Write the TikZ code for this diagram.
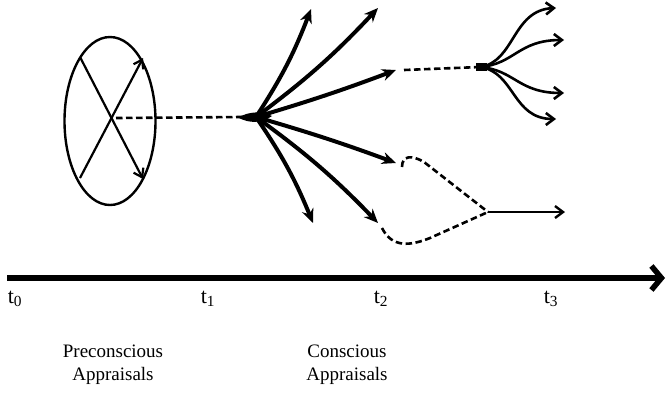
\documentclass[tikz,border=0pt]{standalone}
\usepackage{fontspec}
\setmainfont{Liberation Serif}
\usetikzlibrary{arrows.meta,shapes.geometric}
\begin{document}
\begin{tikzpicture}[x=1pt,y=-1pt,
  fanline/.style={line width=4pt,-{Stealth[length=14pt,width=12pt]}},
  thinarrow/.style={line width=2.2pt,-{Straight Barb[length=8pt,width=11pt]}},
  curvyarrow/.style={line width=2.6pt,-{Straight Barb[length=8pt,width=12pt]}},
  dashline/.style={line width=2.6pt,dash pattern=on 6.5pt off 3.5pt},
  lbl/.style={font=\fontsize{19}{23}\selectfont,inner sep=0pt},
  tlbl/.style={font=\fontsize{22}{24}\selectfont,inner sep=0pt,anchor=north}]
\useasboundingbox (0,0) rectangle (668,392);
% ellipse
\node[draw,line width=2.4pt,ellipse,minimum width=91pt,minimum height=168pt,inner sep=0pt] (ell) at (110,121) {};
\coordinate (ul) at (80,57);
\coordinate (ll) at (80,178);
\coordinate (ur) at (143,58);
\coordinate (lr) at (143,179);
\coordinate (c) at (111,118);
\draw[thinarrow] (ul) -- (lr);
\draw[thinarrow] (ll) -- (ur);
% fan origin
\coordinate (f0) at (242,117);
\coordinate (f) at (256,117);
\draw[dashline] (c) ++(5,0) coordinate (cs) -- (f0);
\fill (238,117.5) .. controls (250,111) and (262,111) .. (272,116) .. controls (262,123) and (250,124) .. (238,117.5) -- cycle;
\coordinate (a1) at (311,9);
\coordinate (a2) at (378,8);
\coordinate (a3) at (396,70);
\coordinate (a4) at (396,163);
\coordinate (a5) at (378,223);
\coordinate (a6) at (313,223);
\draw[fanline] (f) to[bend right=6] (a1);
\draw[fanline] (f) to[bend right=5] (a2);
\draw[fanline] (f) to[bend right=2] (a3);
\draw[fanline] (f) to[bend left=2] (a4);
\draw[fanline] (f) to[bend left=5] (a5);
\draw[fanline] (f) to[bend left=6] (a6);
% upper dashed and small fan
\coordinate (d1) at (404,70);
\coordinate (s0) at (480,67);
\draw[dashline] (d1) -- (s0);
\fill (476,63) rectangle (487,71);
\coordinate (b1) at (556,8);
\coordinate (b2) at (564,40);
\coordinate (b3) at (564,93);
\coordinate (b4) at (556,119);
\draw[curvyarrow] (s0) .. controls (515,62) and (512,10) .. (b1);
\draw[curvyarrow] (s0) .. controls (515,64) and (518,40) .. (b2);
\draw[curvyarrow] (s0) .. controls (515,70) and (518,93) .. (b3);
\draw[curvyarrow] (s0) .. controls (515,72) and (512,119) .. (b4);
% lower dashed merge
\coordinate (m) at (488,212);
\coordinate (u0) at (402,167);
\coordinate (l0) at (382,228);
\coordinate (e) at (565,212);
\draw[dashline] (u0) .. controls (402,155) and (412,155) .. (424,162) -- (m);
\draw[dashline] (l0) .. controls (392,248) and (410,246) .. (430,238) -- (m);
\draw[line width=2.4pt,-{Straight Barb[length=8pt,width=12pt]}] (m) -- (e);
% time axis
\coordinate (ax0) at (7,278);
\coordinate (ax1) at (665,278);
\draw[line width=5.5pt,-{Straight Barb[length=10pt,width=24pt,line width=5.5pt]}] (ax0) -- (ax1);
\node[tlbl] (t0) at (15,291) {t\textsubscript{0}};
\node[tlbl] (t1) at (208,291) {t\textsubscript{1}};
\node[tlbl] (t2) at (381,291) {t\textsubscript{2}};
\node[tlbl] (t3) at (551,291) {t\textsubscript{3}};
\node[lbl,align=center] (pre) at (113,365) {Preconscious\\Appraisals};
\node[lbl,align=center] (con) at (347,365) {Conscious\\Appraisals};
\end{tikzpicture}
\end{document}
